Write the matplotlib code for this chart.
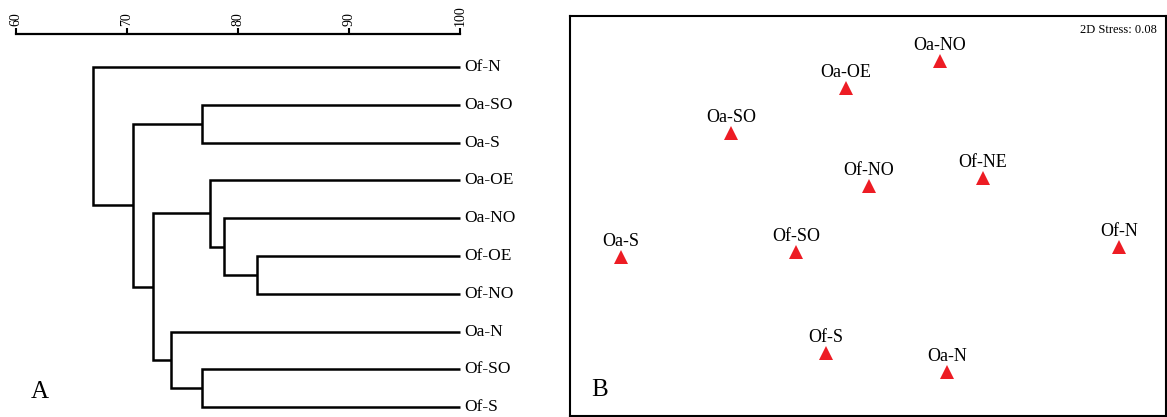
import matplotlib
matplotlib.use("Agg")
import matplotlib.pyplot as plt

plt.rcParams['font.family'] = ['Liberation Serif', 'DejaVu Serif']

# ---- Panel A: dendrogram (similarity %) ----
leaves = ["Of-N", "Oa-SO", "Oa-S", "Oa-OE", "Oa-NO", "Of-OE", "Of-NO", "Oa-N", "Of-SO", "Of-S"]
# merges: (child_a, child_b, similarity); leaves referenced by index, clusters as 'c#'
merges = [
    (1, 2, 76.8),        # c0: Oa-SO + Oa-S
    (5, 6, 81.7),        # c1: Of-OE + Of-NO
    (4, "c1", 78.7),     # c2
    (3, "c2", 77.5),     # c3
    (8, 9, 76.8),        # c4: Of-SO + Of-S
    (7, "c4", 74.0),     # c5
    ("c3", "c5", 72.3),  # c6
    ("c0", "c6", 70.5),  # c7
    (0, "c7", 66.9),     # c8 root
]
sim_ticks = [60, 70, 80, 90, 100]

# ---- Panel B: NMDS ----
nmds_labels = ["Oa-NO", "Oa-OE", "Oa-SO", "Of-NO", "Of-NE", "Oa-S", "Of-SO", "Of-N", "Of-S", "Oa-N"]
nmds_x = [0.72, -0.22, -1.37, 0.01, 1.15, -2.47, -0.72, 2.51, -0.42, 0.79]
nmds_y = [1.55, 1.28, 0.83, 0.30, 0.38, -0.41, -0.36, -0.31, -1.37, -1.56]
stress_text = "2D Stress: 0.08"

W, H = 1167, 417
fig = plt.figure(figsize=(W / 100, H / 100), dpi=100)

def fx(px):
    return px / W

def fy(py):
    return 1 - py / H

# dendrogram axes
top_px, bot_px = 34, 417
axA = fig.add_axes([fx(16), fy(bot_px), fx(460) - fx(16), (bot_px - top_px) / H])
leaf_top, spacing = 67, 37.8
axA.set_xlim(60, 100)
axA.set_ylim((bot_px - leaf_top) / spacing, -(leaf_top - top_px) / spacing)

nodes = {}
for i in range(len(leaves)):
    nodes[i] = (100.0, float(i))

lw = 1.8
for k, (a, b, h) in enumerate(merges):
    xa, ya = nodes[a]
    xb, yb = nodes[b]
    axA.plot([xa, h, h, xb], [ya, ya, yb, yb], color="black", lw=lw,
             solid_joinstyle="miter", solid_capstyle="butt", clip_on=False)
    nodes["c%d" % k] = (h, (ya + yb) / 2)

for i, name in enumerate(leaves):
    axA.text(100.4, i, name, fontsize=12.5, va="center", ha="left")

for s in ["bottom", "left", "right"]:
    axA.spines[s].set_visible(False)
axA.spines["top"].set_linewidth(1.6)
axA.xaxis.tick_top()
axA.set_xticks(sim_ticks)
axA.set_xticklabels([str(t) for t in sim_ticks], rotation=90, fontsize=10)
axA.tick_params(axis="x", direction="out", length=4, width=1.5, pad=2)
axA.set_yticks([])
axA.patch.set_alpha(0)

fig.text(fx(40), fy(392), "A", fontsize=18, ha="center", va="center")

# NMDS axes
axB = fig.add_axes([fx(570), fy(416), fx(1166) - fx(570), 400 / H])
axB.set_xlim(-2.98, 2.98)
axB.set_ylim(-2.0, 2.0)
axB.plot(nmds_x, nmds_y, linestyle="none", marker="^", markersize=9.5,
         color="#ED1C24", markeredgewidth=0)
for x, y, lab in zip(nmds_x, nmds_y, nmds_labels):
    axB.annotate(lab, (x, y), xytext=(0, 11.5), textcoords="offset points",
                 ha="center", va="center", fontsize=13)
axB.set_xticks([])
axB.set_yticks([])
for s in axB.spines.values():
    s.set_linewidth(1.5)
axB.text(0.985, 0.965, stress_text, transform=axB.transAxes, ha="right",
         va="center", fontsize=9)
axB.text(0.05, 0.065, "B", transform=axB.transAxes, ha="center",
         va="center", fontsize=18)

fig.savefig("out.png", dpi=100)
